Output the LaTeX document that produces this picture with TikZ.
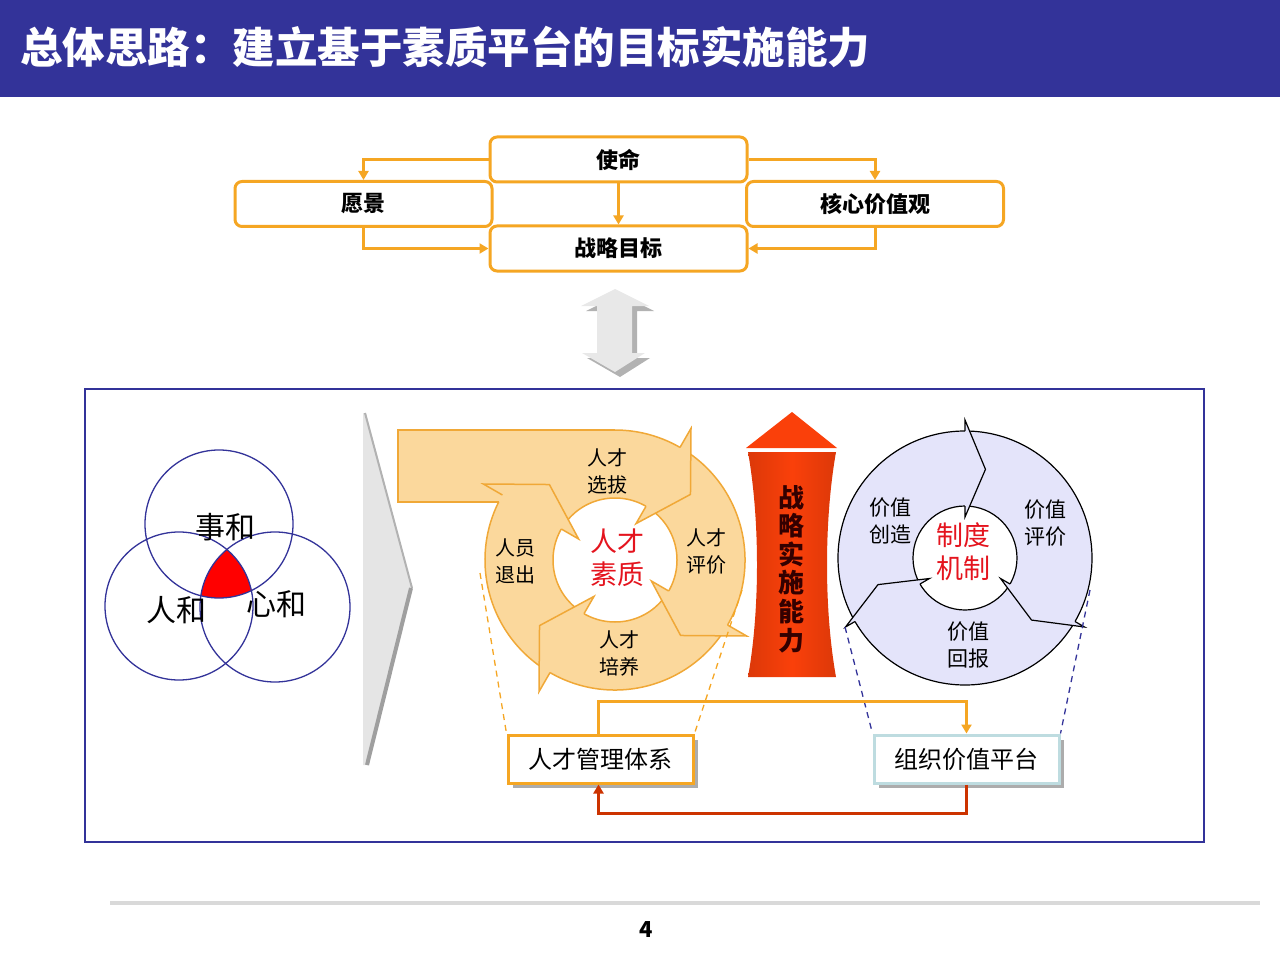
\documentclass[tikz,border=0pt]{standalone}
\usepackage{fontspec}
\setmainfont{Noto Sans CJK SC}
\usetikzlibrary{arrows.meta,shadows,calc}
\definecolor{navy}{RGB}{51,51,153}
\definecolor{ora}{RGB}{245,166,35}
\definecolor{cfill}{RGB}{251,216,156}
\definecolor{cline}{RGB}{240,168,55}
\definecolor{lav}{RGB}{228,228,250}
\definecolor{redtxt}{RGB}{228,20,30}
\definecolor{rarrow}{RGB}{250,64,10}
\definecolor{dkred}{RGB}{204,51,0}
\definecolor{bluegray}{RGB}{190,220,224}
\begin{document}
\begin{tikzpicture}[x=1pt,y=-1pt,
  topbox/.style={draw=ora, line width=3pt, rounded corners=7pt, fill=white,
    minimum width=257pt, minimum height=45pt, inner sep=0pt,
    font=\fontsize{22}{26}\selectfont\bfseries},
  oarrow/.style={draw=ora, line width=3pt, -{Triangle[length=9pt,width=10pt]}},
  botbox/.style={line width=3pt, fill=white, minimum width=185pt, minimum height=48pt,
    inner sep=0pt, font=\fontsize{24}{26}\selectfont,
    drop shadow={shadow xshift=5pt, shadow yshift=-5pt, fill=gray!65, opacity=1}},
  small/.style={align=center, font=\fontsize{20}{27}\selectfont},
  psmall/.style={align=center, font=\fontsize{21}{27}\selectfont},
  centre/.style={align=center, text=redtxt, font=\fontsize{27}{33}\selectfont},
  venn/.style={draw=navy, line width=1.3pt},
  cyc/.style={draw=cline, line width=1.5pt},
  pcyc/.style={draw=black, line width=1.2pt},
]
\useasboundingbox (0,0) rectangle (1280,960);

% title bar
\fill[navy] (0,0) rectangle (1280,97);
\node[anchor=west, text=white, inner sep=0pt, font=\fontsize{42.5}{42.5}\selectfont\bfseries] (title) at (20,47) {总体思路：建立基于素质平台的目标实施能力};

% top boxes
\node[topbox] (shiming) at (618.5,159.5) {使命};
\node[topbox] (yuanjing) at (363.5,204) {愿景};
\node[topbox] (hexin) at (875,204) {核心价值观};
\node[topbox] (zhanlue) at (618.5,248.5) {战略目标};
\draw[oarrow] (shiming.west) -| (yuanjing.north);
\draw[oarrow] (shiming.east) -| (hexin.north);
\draw[oarrow] (shiming.south) -- (zhanlue.north);
\draw[oarrow] (yuanjing.south) |- (zhanlue.west);
\draw[oarrow] (hexin.south) |- (zhanlue.east);

% double block arrow
\fill[gray!60] (620,294) -- (654,311) -- (637,311) -- (637,358) -- (650,358) -- (620,377) -- (587,358) -- (602,358) -- (602,311) -- (586,311) -- cycle;
\fill[gray!18] (615,289) -- (649,306) -- (632,306) -- (632,353) -- (645,353) -- (615,372) -- (582,353) -- (597,353) -- (597,306) -- (581,306) -- cycle;

% big frame
\draw[navy, line width=2pt] (85,389) rectangle (1204,842);

% Venn diagram
\begin{scope}
  \clip (219,524) circle[radius=74];
  \clip (179,606) circle[radius=74];
  \fill[red] (275,607) circle[radius=75];
\end{scope}
\draw[venn] (219,524) circle[radius=74];
\draw[venn] (179,606) circle[radius=74];
\draw[venn] (275,607) circle[radius=75];
\node[font=\fontsize{30}{30}\selectfont] (shihe) at (225,527) {事和};
\node[font=\fontsize{30}{30}\selectfont] (renhe) at (176,610) {人和};
\node[font=\fontsize{30}{30}\selectfont] (xinhe) at (276,604) {心和};

% gray chevron
\fill[gray!20] (363,413) -- (366,413) -- (412,588) -- (368,765) -- (363,765) -- cycle;
\draw[gray!60, line width=2pt] (365,413) -- (412,588);
\draw[gray!75, line width=4pt] (411,588) -- (367,765);

% orange cycle
\begin{scope}[shift={(615,560)}]
  \fill[cfill, even odd rule] (0,0) circle[radius=130] (0,0) circle[radius=62];
\end{scope}
\fill[cfill] (398,430) -- (615,430) -- (600,470) -- (560,502) -- (398,502) -- cycle;
\draw[cyc] (615,430) -- (398,430) -- (398,502) -- (499,502);
\begin{scope}[shift={(615,560)}]
  \draw[cyc] (270:130) arc[start angle=270, end angle=300, radius=130];
  \draw[cyc] (300:130) arc[start angle=300, end angle=390, radius=130];
  \draw[cyc] (30:130) arc[start angle=30, end angle=120, radius=130];
  \draw[cyc] (120:130) arc[start angle=120, end angle=206.5, radius=130];
  \draw[cyc] (0,0) circle[radius=62];
  \foreach \h in {300,30,120,210}{
    \fill[cfill] (\h:152) -- ({\h+19}:100) -- (\h:42) -- cycle;
    \draw[cyc, line join=miter] (\h:130) -- (\h:152) -- ({\h+19}:100) -- (\h:42) -- (\h:62);
  }
\end{scope}
\node[small] (xuanba) at (607,471) {人才\\选拔};
\node[small] (pingjia) at (706,551) {人才\\评价};
\node[small] (peiyang) at (619,653) {人才\\培养};
\node[small] (tuichu) at (515,561) {人员\\退出};
\node[centre] (suzhi) at (617,558) {人才\\素质};

% red up arrow
\fill[rarrow] (746,448) -- (837,448) -- (792,412) -- cycle;
\shade[left color=rarrow!88!black, right color=rarrow!88!black, middle color=rarrow]
  (748,452) .. controls (760,520) and (760,610) .. (748,677) -- (836,677)
  .. controls (824,610) and (824,520) .. (836,452) -- cycle;
\node[align=center, font=\fontsize{26}{28.6}\selectfont\bfseries, text=black!80!red] (nengli) at (791,569) {战\\略\\实\\施\\能\\力};

% purple cycle
\begin{scope}[shift={(965,558)}]
  \fill[lav, even odd rule] (0,0) circle[radius=127] (0,0) circle[radius=52];
  \draw[pcyc] (0,0) circle[radius=127];
  \draw[pcyc] (0,0) circle[radius=52];
  \foreach \h in {270,30,150}{
    \fill[lav] (\h:138) -- ({\h+13}:91) -- (\h:41) -- cycle;
    \draw[pcyc] (\h:127) -- (\h:138) -- ({\h+13}:91) -- (\h:41) -- (\h:52);
  }
\end{scope}
\node[psmall] (chuangzao) at (890,521) {价值\\创造};
\node[psmall] (ppingjia) at (1045,523) {价值\\评价};
\node[psmall] (huibao) at (968,645) {价值\\回报};
\node[centre] (zhidu) at (963,552) {制度\\机制};

% bottom boxes
\node[botbox, draw=ora] (rcgl) at (600.5,759) {人才管理体系};
\node[botbox, draw=bluegray] (zzjz) at (966.5,759) {组织价值平台};

% dashed guide lines
\coordinate (od1) at (480,573);
\coordinate (od2) at (742,590);
\coordinate (pd1) at (845,627);
\coordinate (pd2) at (1090,590);
\draw[ora, line width=1.3pt, dash pattern=on 6pt off 5pt] (od1) -- (rcgl.north west);
\draw[ora, line width=1.3pt, dash pattern=on 6pt off 5pt] (od2) -- (rcgl.north east);
\draw[navy, line width=1.3pt, dash pattern=on 6pt off 5pt] (pd1) -- (zzjz.north west);
\draw[navy, line width=1.3pt, dash pattern=on 6pt off 5pt] (pd2) -- (zzjz.north east);

% connectors between boxes
\draw[draw=ora, line width=3pt, -{Triangle[length=9pt,width=10pt]}] ([xshift=-2pt]rcgl.north) -- ++(0,-32) -| (zzjz.north);
\draw[draw=dkred, line width=3pt, -{Triangle[length=9pt,width=10pt]}] (zzjz.south) -- ++(0,29) -| ([xshift=-2pt]rcgl.south);

% footer
\draw[gray!30, line width=4pt] (110,903) -- (1260,903);
\node[font=\fontsize{22}{22}\selectfont\bfseries] (pnum) at (646,930) {4};
\end{tikzpicture}
\end{document}
